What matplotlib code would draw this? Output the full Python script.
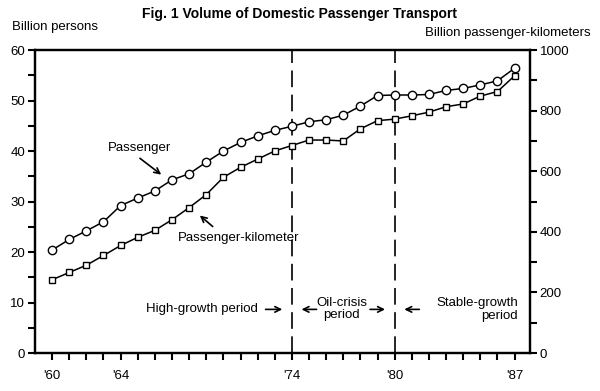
import numpy as np
import matplotlib.pyplot as plt

plt.rcParams['font.family'] = ['Liberation Sans', 'DejaVu Sans']

years = list(range(1960, 1988))
# billion persons (left axis, circles)
passengers = [20.4, 22.5, 24.2, 26.0, 29.2, 30.7, 32.1, 34.3, 35.5, 37.8,
              40.0, 41.7, 43.0, 44.1, 44.9, 45.8, 46.2, 47.1, 48.9, 51.0,
              51.1, 51.1, 51.2, 52.0, 52.4, 53.1, 53.9, 56.4]
# billion passenger-kilometers (right axis, squares)
passenger_km = [242, 266, 290, 322, 355, 382, 405, 440, 480, 523,
                580, 613, 640, 667, 685, 703, 703, 700, 740, 767,
                772, 783, 795, 813, 822, 848, 863, 915]

xtick_years = [1960, 1964, 1974, 1980, 1987]
xtick_labels = ["'60", "'64", "'74", "'80", "'87"]
period_breaks = [1974, 1980]

fig = plt.figure(figsize=(6, 3.91), dpi=100)
ax = fig.add_axes([0.0583, 0.097, 0.825, 0.775])
ax2 = ax.twinx()

ax.plot(years, passengers, color='black', lw=1.1, marker='o', ms=6,
        mfc='white', mec='black', mew=1.0, zorder=3)
ax2.plot(years, passenger_km, color='black', lw=1.1, marker='s', ms=4.5,
         mfc='white', mec='black', mew=1.0, zorder=3)

for yr in period_breaks:
    ax.axvline(yr, color='black', lw=1.2, ls=(0, (10, 4.5)), zorder=2)

ax.set_xlim(1959, 1987.9)
ax.set_ylim(0, 60)
ax2.set_ylim(0, 1000)

ax.set_xticks(years, minor=True)
ax.set_xticks(xtick_years)
ax.set_xticklabels(xtick_labels)
ax.set_yticks(range(0, 61, 10))
ax.set_yticks(range(0, 61, 5), minor=True)
ax2.set_yticks(range(0, 1001, 200))
ax2.set_yticks(range(0, 1001, 100), minor=True)

for a in (ax, ax2):
    a.tick_params(which='both', direction='out', length=5, width=1.5,
                  labelsize=9.5, pad=2)
    for s in a.spines.values():
        s.set_linewidth(1.6)
ax.tick_params(axis='x', pad=7)

fig.text(0.5, 0.965, 'Fig. 1 Volume of Domestic Passenger Transport',
         ha='center', va='center', fontsize=10, fontweight='bold')
fig.text(0.02, 0.93, 'Billion persons', ha='left', va='center', fontsize=9.5)
fig.text(0.985, 0.915, 'Billion passenger-kilometers', ha='right',
         va='center', fontsize=9.5)

arrow = dict(arrowstyle='->', color='black', lw=1.2)
ax.annotate('', xy=(1966.5, 35.0), xytext=(1965.0, 38.9), arrowprops=arrow)
ax.text(1965.1, 40.7, 'Passenger', ha='center', va='center', fontsize=9.5)
ax.annotate('', xy=(1968.5, 27.6), xytext=(1969.5, 24.7), arrowprops=arrow)
ax.text(1970.9, 22.7, 'Passenger-kilometer', ha='center', va='center',
        fontsize=9.5)

ax.text(1972.0, 8.65, 'High-growth period', ha='right', va='center',
        fontsize=9.5)
ax.annotate('', xy=(1973.6, 8.65), xytext=(1972.3, 8.65), arrowprops=arrow)
ax.annotate('', xy=(1974.4, 8.65), xytext=(1975.6, 8.65), arrowprops=arrow)
ax.text(1976.9, 8.65, 'Oil-crisis\nperiod', ha='center', va='center',
        fontsize=9.5, linespacing=1.0)
ax.annotate('', xy=(1979.6, 8.65), xytext=(1978.4, 8.65), arrowprops=arrow)
ax.annotate('', xy=(1980.4, 8.65), xytext=(1981.6, 8.65), arrowprops=arrow)
ax.text(1987.2, 8.65, 'Stable-growth\nperiod', ha='right', va='center',
        fontsize=9.5, multialignment='right', linespacing=1.1)

fig.savefig('out.png', dpi=100)
